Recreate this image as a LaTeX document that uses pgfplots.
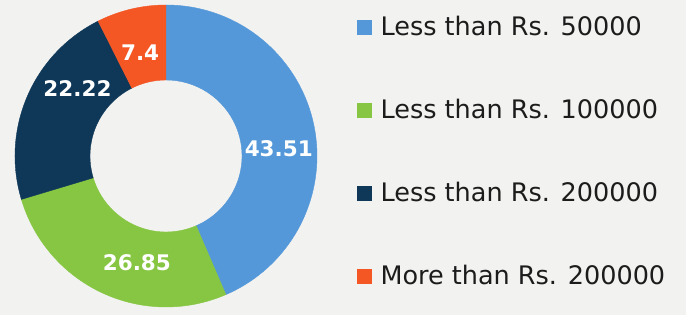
\documentclass[border=0pt]{standalone}
\usepackage{pgfplots}
\pgfplotsset{compat=1.18}
\usepackage{fontspec}
\setmainfont{DejaVu Sans}
\newfontfamily\valfont{DejaVu Sans}
\definecolor{bgc}{HTML}{F2F2F0}
\definecolor{cblue}{HTML}{5498D9}
\definecolor{cgreen}{HTML}{86C642}
\definecolor{cnavy}{HTML}{0F3858}
\definecolor{corange}{HTML}{F45624}
\definecolor{ctext}{HTML}{1C1C1C}
\pgfdeclareplotmark{nothing}{}
\pgfplotsset{
  donut/.style={
    only marks, scatter, mark=nothing,
    visualization depends on={\thisrow{cum}\as\cum},
    visualization depends on={\thisrow{val}\as\valn},
    visualization depends on={value \thisrow{val}\as\valt},
    visualization depends on={\thisrow{la}\as\la},
    visualization depends on={\thisrow{lr}\as\lr},
    scatter/@pre marker code/.code={%
      \pgfmathsetmacro\aa{90-3.6*\cum}%
      \pgfmathsetmacro\bb{90-3.6*(\cum+\valn)}%
      \fill[#1] (\aa:151pt) arc[start angle=\aa,end angle=\bb,radius=151pt]
        -- (\bb:76pt) arc[start angle=\bb,end angle=\aa,radius=76pt] -- cycle;
      \node[text=white,font=\valfont\bfseries\fontsize{21.5}{25}\selectfont,inner sep=0pt] at (\la:\lr pt) {\valt};
    },
    scatter/@post marker code/.code={},
    legend image code/.code={\fill[#1] (0pt,-8pt) rectangle (14pt,6pt);},
  }
}
\begin{document}
\begin{tikzpicture}
\fill[bgc,use as bounding box] (0,0) rectangle (686pt,315pt);
\begin{axis}[
  at={(0,0)}, anchor=south west,
  width=686pt, height=315pt, scale only axis,
  xmin=0, xmax=686, ymin=0, ymax=315,
  hide axis, clip=false,
  legend cell align=left,
  legend style={at={(axis cs:354,303)}, anchor=north west, draw=none, fill=none,
    font=\fontsize{25.5}{30}\selectfont, text=ctext, row sep=58pt,
    /tikz/every odd column/.append style={column sep=7pt}},
]
\addplot[donut=cblue] table[row sep=\\] {x y cum val la lr\\ 166 159 0 43.51 3.5 113\\};
\addlegendentry{Less than Rs. 50000}
\addplot[donut=cgreen] table[row sep=\\] {x y cum val la lr\\ 166 159 43.51 26.85 -105.2 111\\};
\addlegendentry{Less than Rs. 100000}
\addplot[donut=cnavy] table[row sep=\\] {x y cum val la lr\\ 166 159 70.36 22.22 142.5 111.6\\};
\addlegendentry{Less than Rs. 200000}
\addplot[donut=corange] table[row sep=\\] {x y cum val la lr\\ 166 159 92.58 7.4 104 107\\};
\addlegendentry{More than Rs. 200000}
\end{axis}
\end{tikzpicture}
\end{document}
